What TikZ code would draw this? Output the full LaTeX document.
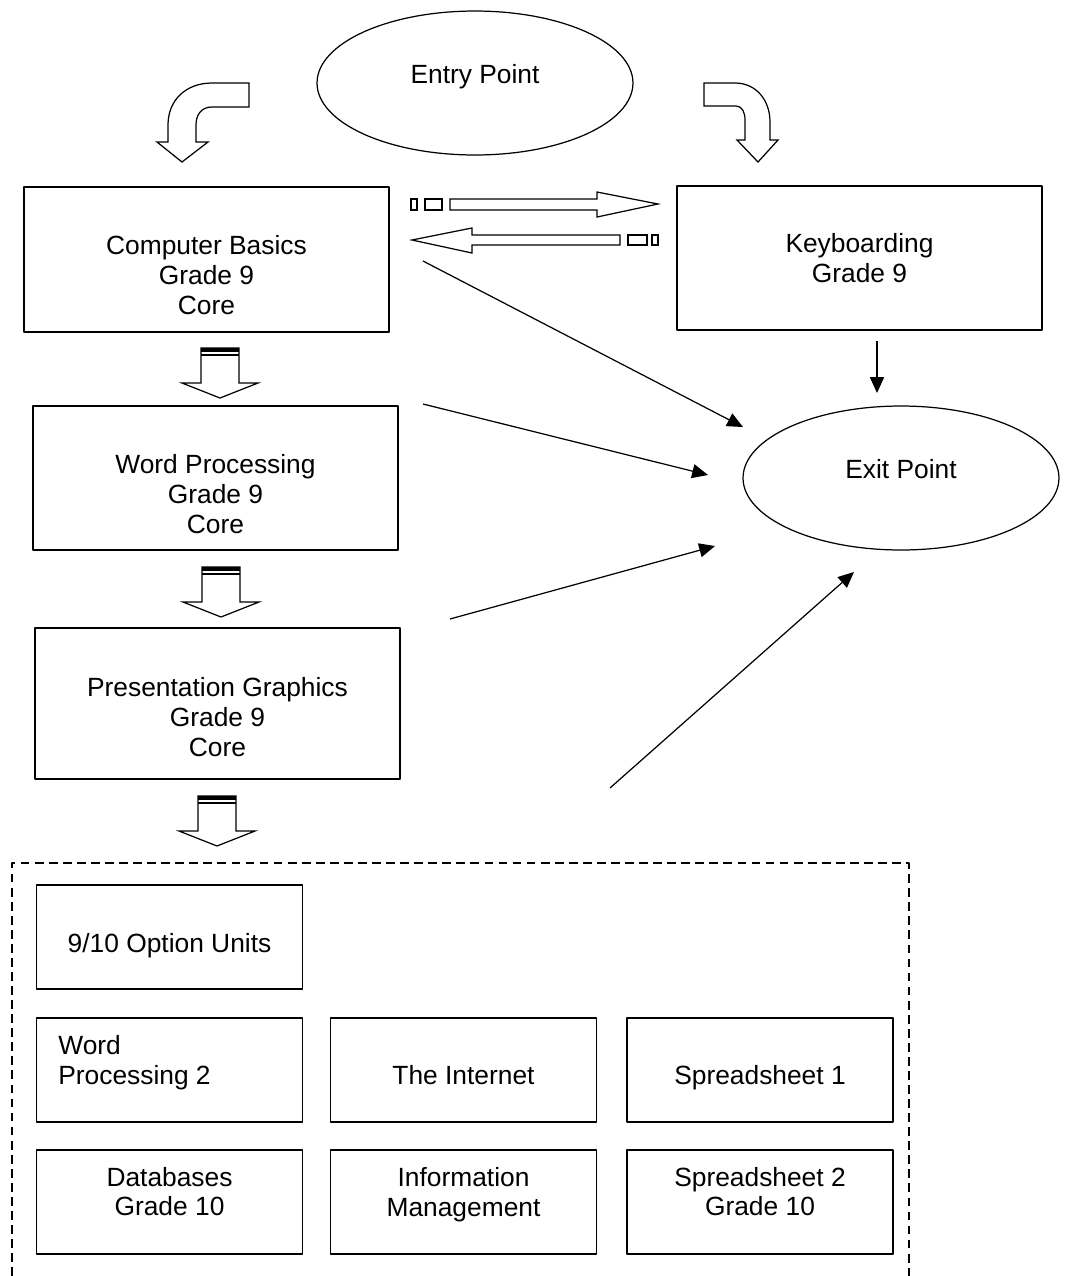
\documentclass[tikz,border=0pt]{standalone}
\usepackage{fontspec}
\setmainfont{Liberation Sans}
\usetikzlibrary{shapes.geometric,arrows.meta}
\tikzset{
	box/.style={draw, line width=0.9pt, inner sep=0pt, minimum width=7.3cm, minimum height=2.88cm},
	optbox/.style={draw, line width=0.9pt, inner sep=0pt, minimum width=5.32cm, minimum height=2.08cm},
	oval/.style={ellipse, draw, line width=0.7pt, inner sep=0pt, minimum width=6.32cm, minimum height=2.88cm},
	txt/.style={align=center, inner sep=0pt},
	blockarrow/.style={draw, line width=0.7pt, fill=white, line join=miter}
}
\begin{document}
\begin{tikzpicture}[x=0.02cm, y=-0.02cm, font=\fontsize{15}{17}\selectfont, line join=round, >={Triangle[length=9pt,width=8pt]}]
				\useasboundingbox (0,0) rectangle (1065,1276);
				% entry and exit
				\node[oval] (entry) at (475,83) {};
				\node[txt] (entrytxt) at (475,77) {Entry Point};
				\node[oval] (exit) at (901,478) {};
				\node[txt] (exittxt) at (901,469) {Exit Point};
				% core units
				\node[box, minimum height=2.9cm] (basics) at (206.5,259.5) {};
				\node[txt] (basicstxt) at (206.5,275) {Computer Basics\\Grade 9\\Core};
				\node[box] (keyb) at (859.5,258) {};
				\node[txt] (keybtxt) at (859.5,258.5) {Keyboarding\\Grade 9};
				\node[box] (wordp) at (215.5,478) {};
				\node[txt] (wordptxt) at (215.5,494) {Word Processing\\Grade 9\\Core};
				\node[box, minimum height=3.02cm] (presg) at (217.5,703.5) {};
				\node[txt] (presgtxt) at (217.5,717) {Presentation Graphics\\Grade 9\\Core};
				% curved arrows from entry
				\draw[blockarrow] (249,83) -- (212,83) .. controls (186,83) and (168,100) .. (168,125) -- (168,142) -- (157,142) -- (182,162) -- (208,142) -- (196,142) -- (196,125) .. controls (196,114) and (202,107) .. (212,107) -- (249,107) -- cycle;
				\draw[blockarrow] (704,83) -- (735,83) .. controls (756,83) and (770,100) .. (770,122) -- (770,140) -- (778,140) -- (758,162) -- (737,140) -- (745,140) -- (745,120) .. controls (745,112) and (742,106) .. (736,106) -- (704,106) -- cycle;
				% striped arrows between basics and keyboarding
				\draw[blockarrow] (411,199) rectangle (417,210);
				\draw[blockarrow] (425,199) rectangle (442,210);
				\draw[blockarrow] (450,199) -- (597,199) -- (597,192) -- (658,204) -- (597,217) -- (597,210) -- (450,210) -- cycle;
				\draw[blockarrow] (412,240) -- (472,228) -- (472,235) -- (620,235) -- (620,245) -- (472,245) -- (472,253) -- cycle;
				\draw[blockarrow] (628,235) rectangle (647,245);
				\draw[blockarrow] (652,235) rectangle (658,245);
				% down arrows
				\foreach \cx/\ty in {220/348, 221/567, 217/796}{
					\draw[blockarrow] (\cx-19,\ty) -- (\cx+19,\ty) -- (\cx+19,\ty+35) -- (\cx+38,\ty+35) -- (\cx,\ty+50) -- (\cx-38,\ty+35) -- (\cx-19,\ty+35) -- cycle;
					\fill (\cx-19,\ty) rectangle (\cx+19,\ty+4);
					\fill (\cx-19,\ty+5.5) rectangle (\cx+19,\ty+7.5);
				}
				% arrows to exit
				\coordinate (K1) at (877,341);
				\coordinate (K2) at (877,393);
				\coordinate (A1) at (423,261);
				\coordinate (A2) at (743,427);
				\coordinate (B1) at (423,404);
				\coordinate (B2) at (708,475);
				\coordinate (C1) at (450,619);
				\coordinate (C2) at (715,546);
				\coordinate (D1) at (610,788);
				\coordinate (D2) at (854,572);
				\foreach \p in {K,A,B,C,D}	\draw[->, line width=0.7pt] (\p1) -- (\p2);
				% option units
				\draw[dashed, line width=0.8pt, dash pattern=on 5pt off 3pt] (12,1276) -- (12,863) -- (909,863) -- (909,1276);
				\node[optbox] (optunits) at (169.5,937) {};
				\node[txt] (optunitstxt) at (169.5,946) {9/10 Option Units};
				\node[optbox] (wordtwo) at (169.5,1070) {};
				\node[txt, align=left, anchor=west] (wordtwotxt) at (58,1063) {Word\\Processing 2};
				\node[optbox] (internet) at (463.5,1070) {};
				\node[txt] (internettxt) at (463.5,1075) {The Internet};
				\node[optbox] (sheetone) at (760,1070) {};
				\node[txt] (sheetonetxt) at (760,1078) {Spreadsheet 1};
				\node[optbox] (databases) at (169.5,1202) {};
				\node[txt] (databasestxt) at (169.5,1191.5) {Databases\\Grade 10};
				\node[optbox] (infomgmt) at (463.5,1202) {};
				\node[txt] (infomgmttxt) at (463.5,1194.5) {Information\\Management};
				\node[optbox] (sheettwo) at (760,1202) {};
				\node[txt] (sheettwotxt) at (760,1191.5) {Spreadsheet 2\\Grade 10};
			\end{tikzpicture}
\end{document}
